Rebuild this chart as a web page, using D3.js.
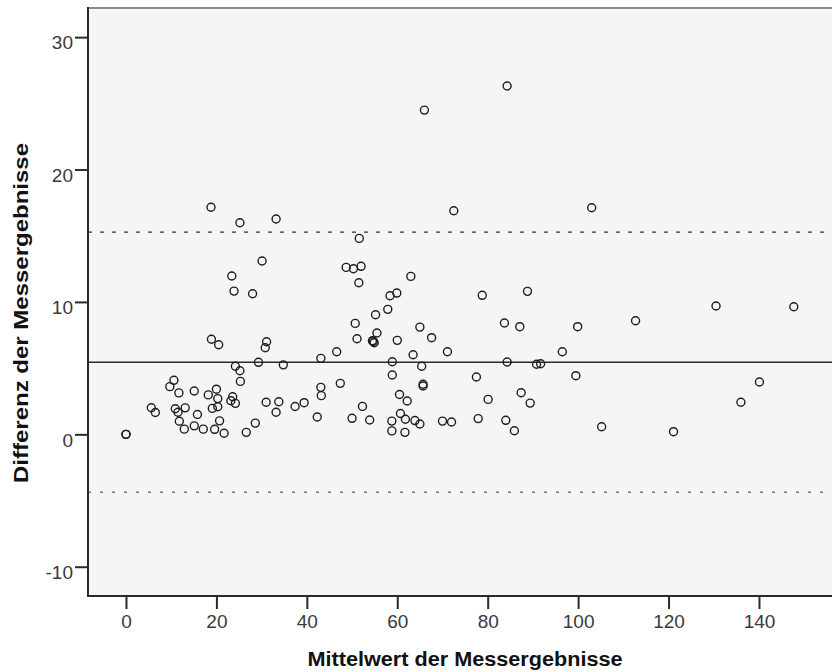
<!DOCTYPE html>
<html>
<head>
<meta charset="utf-8">
<script src="https://cdn.jsdelivr.net/npm/d3@7/dist/d3.min.js"></script>
<style>
  html, body { margin: 0; padding: 0; background: #ffffff; }
  svg { display: block; }
  text { font-family: "Liberation Sans", Arial, sans-serif; }
</style>
</head>
<body>
<svg id="chart" width="832" height="672"></svg>
<script>
// Bland-Altman data: mean of the two measurements (x) and their difference (y)
const meanVals = [
  0, 0, 5.6, 6.5, 10.6, 9.7, 11.7, 10.9, 11.5, 13.1, 11.8, 12.9, 15.1, 15.8, 15.1, 17.1,
  18.9, 20.5, 18.2, 20.0, 20.3, 19.1, 20.3, 20.7, 19.6, 21.7, 24.2, 25.2, 25.3, 23.6, 23.2,
  24.2, 26.6, 28.6, 29.3, 31.1, 30.8, 34.8, 31.0, 33.8, 33.2, 37.4, 39.4, 42.3, 43.1, 43.2,
  18.8, 25.2, 33.2, 30.1, 23.4, 23.9, 28.0,
  51.6, 48.7, 50.3, 52.0, 51.5, 58.4, 59.9, 57.9, 55.2, 50.7, 51.1, 55.5, 54.5, 54.9, 54.7,
  60.0, 65.0, 67.6, 71.1, 63.5, 46.6, 43.1, 58.9, 65.4, 58.9, 77.5, 47.4, 65.7, 65.7, 60.5,
  62.2, 52.3, 50.0, 53.9, 60.7, 61.8, 63.9, 65.0, 58.8, 58.8, 61.7, 70.0, 72.0, 77.9,
  66.0, 84.3, 72.5, 103.0, 63.0, 78.8, 88.8, 83.7, 87.1, 99.9, 96.5, 84.3, 90.8, 91.7, 99.5,
  80.1, 87.4, 89.4, 84.0, 85.9, 105.2,
  112.7, 130.5, 147.7, 140.1, 136.0, 121.1
];
const diffVals = [
  0, 0, 2.01, 1.65, 4.08, 3.60, 3.13, 1.93, 1.67, 2.00, 0.99, 0.39, 3.27, 1.50, 0.64, 0.39,
  7.18, 6.77, 2.98, 3.41, 2.70, 1.96, 2.08, 1.02, 0.38, 0.08, 5.14, 4.80, 4.00, 2.84, 2.54,
  2.34, 0.15, 0.85, 5.44, 6.99, 6.54, 5.25, 2.42, 2.46, 1.67, 2.10, 2.39, 1.31, 3.55, 2.92,
  17.15, 15.98, 16.26, 13.09, 11.96, 10.82, 10.62,
  14.80, 12.61, 12.51, 12.69, 11.45, 10.47, 10.67, 9.44, 9.03, 8.38, 7.22, 7.65, 7.07, 6.92, 7.01,
  7.10, 8.10, 7.30, 6.24, 6.01, 6.24, 5.74, 5.48, 5.14, 4.48, 4.33, 3.85, 3.78, 3.65, 3.01,
  2.52, 2.11, 1.21, 1.08, 1.57, 1.14, 1.04, 0.78, 1.00, 0.26, 0.15, 1.00, 0.93, 1.19,
  24.49, 26.31, 16.89, 17.11, 11.93, 10.50, 10.80, 8.41, 8.13, 8.13, 6.24, 5.46, 5.29, 5.33, 4.43,
  2.64, 3.14, 2.36, 1.06, 0.27, 0.57,
  8.58, 9.69, 9.64, 3.95, 2.42, 0.20
];

// Mean difference and limits of agreement
const meanDiff = 5.45;
const upperLimit = 15.28;
const lowerLimit = -4.38;

const xTicks = [0, 20, 40, 60, 80, 100, 120, 140];
const yTicks = [-10, 0, 10, 20, 30];

const xLabel = "Mittelwert der Messergebnisse";
const yLabel = "Differenz der Messergebnisse";

const svg = d3.select("#chart");
const frame = { left: 88, right: 842, top: 8, bottom: 596 };

const x = d3.scaleLinear().domain([-8.4, 158.36]).range([frame.left, frame.right]);
const y = d3.scaleLinear().domain([-12.21, 32.2]).range([frame.bottom, frame.top]);

// plain hyphen-minus for negative tick values
const tickFmt = d => String(d);

// plot background
svg.append("rect")
  .attr("x", frame.left).attr("y", frame.top)
  .attr("width", frame.right - frame.left).attr("height", frame.bottom - frame.top)
  .attr("fill", "#f5f5f5");

// reference lines
const refs = svg.append("g");
refs.append("line")
  .attr("x1", frame.left).attr("x2", frame.right)
  .attr("y1", y(meanDiff)).attr("y2", y(meanDiff))
  .attr("stroke", "#2a2a2a").attr("stroke-width", 1.5);
refs.append("line")
  .attr("x1", frame.left).attr("x2", frame.right)
  .attr("y1", y(upperLimit)).attr("y2", y(upperLimit))
  .attr("stroke", "#333").attr("stroke-width", 1.3)
  .attr("stroke-dasharray", "4 8");
refs.append("line")
  .attr("x1", frame.left).attr("x2", frame.right)
  .attr("y1", y(lowerLimit)).attr("y2", y(lowerLimit))
  .attr("stroke", "#777").attr("stroke-width", 1.5)
  .attr("stroke-dasharray", "3 9");

// points
svg.append("g")
  .selectAll("circle")
  .data(d3.range(meanVals.length))
  .join("circle")
  .attr("cx", i => x(meanVals[i]))
  .attr("cy", i => y(diffVals[i]))
  .attr("r", 4)
  .attr("fill", "none")
  .attr("stroke", "#1e1e1e")
  .attr("stroke-width", 1.4);

// frame borders
svg.append("line")
  .attr("x1", frame.left).attr("x2", frame.right)
  .attr("y1", frame.top).attr("y2", frame.top)
  .attr("stroke", "#8a8a8a").attr("stroke-width", 2);
svg.append("line")
  .attr("x1", frame.left).attr("x2", frame.left)
  .attr("y1", frame.top - 1).attr("y2", frame.bottom + 1)
  .attr("stroke", "#2a2a2a").attr("stroke-width", 2);
svg.append("line")
  .attr("x1", frame.left - 1).attr("x2", frame.right)
  .attr("y1", frame.bottom).attr("y2", frame.bottom)
  .attr("stroke", "#2a2a2a").attr("stroke-width", 2);

// x axis
const xAxis = d3.axisBottom(x).tickValues(xTicks).tickSize(12).tickPadding(6).tickFormat(tickFmt);
const gx = svg.append("g").attr("transform", `translate(0,${frame.bottom + 1})`).call(xAxis);
gx.select(".domain").remove();
gx.selectAll(".tick line").attr("stroke", "#2a2a2a").attr("stroke-width", 2);
gx.selectAll(".tick text")
  .attr("font-size", 19).attr("fill", "#3a3a3a")
  .attr("font-family", "'Liberation Sans', Arial, sans-serif");

// y axis
const yAxis = d3.axisLeft(y).tickValues(yTicks).tickSize(12).tickPadding(2).tickFormat(tickFmt);
const gy = svg.append("g").attr("transform", `translate(${frame.left - 1},0)`).call(yAxis);
gy.select(".domain").remove();
gy.selectAll(".tick line").attr("stroke", "#2a2a2a").attr("stroke-width", 2);
gy.selectAll(".tick text")
  .attr("font-size", 19).attr("fill", "#3a3a3a")
  .attr("dy", "0.72em").attr("y", -2)
  .attr("font-family", "'Liberation Sans', Arial, sans-serif");

// axis titles
svg.append("text")
  .attr("x", 465).attr("y", 666)
  .attr("text-anchor", "middle")
  .attr("font-size", 20).attr("font-weight", "bold").attr("fill", "#111")
  .attr("textLength", 315).attr("lengthAdjust", "spacingAndGlyphs")
  .text(xLabel);

svg.append("text")
  .attr("transform", "translate(28,313) rotate(-90)")
  .attr("text-anchor", "middle")
  .attr("font-size", 20).attr("font-weight", "bold").attr("fill", "#111")
  .attr("textLength", 340).attr("lengthAdjust", "spacingAndGlyphs")
  .text(yLabel);
</script>
</body>
</html>
